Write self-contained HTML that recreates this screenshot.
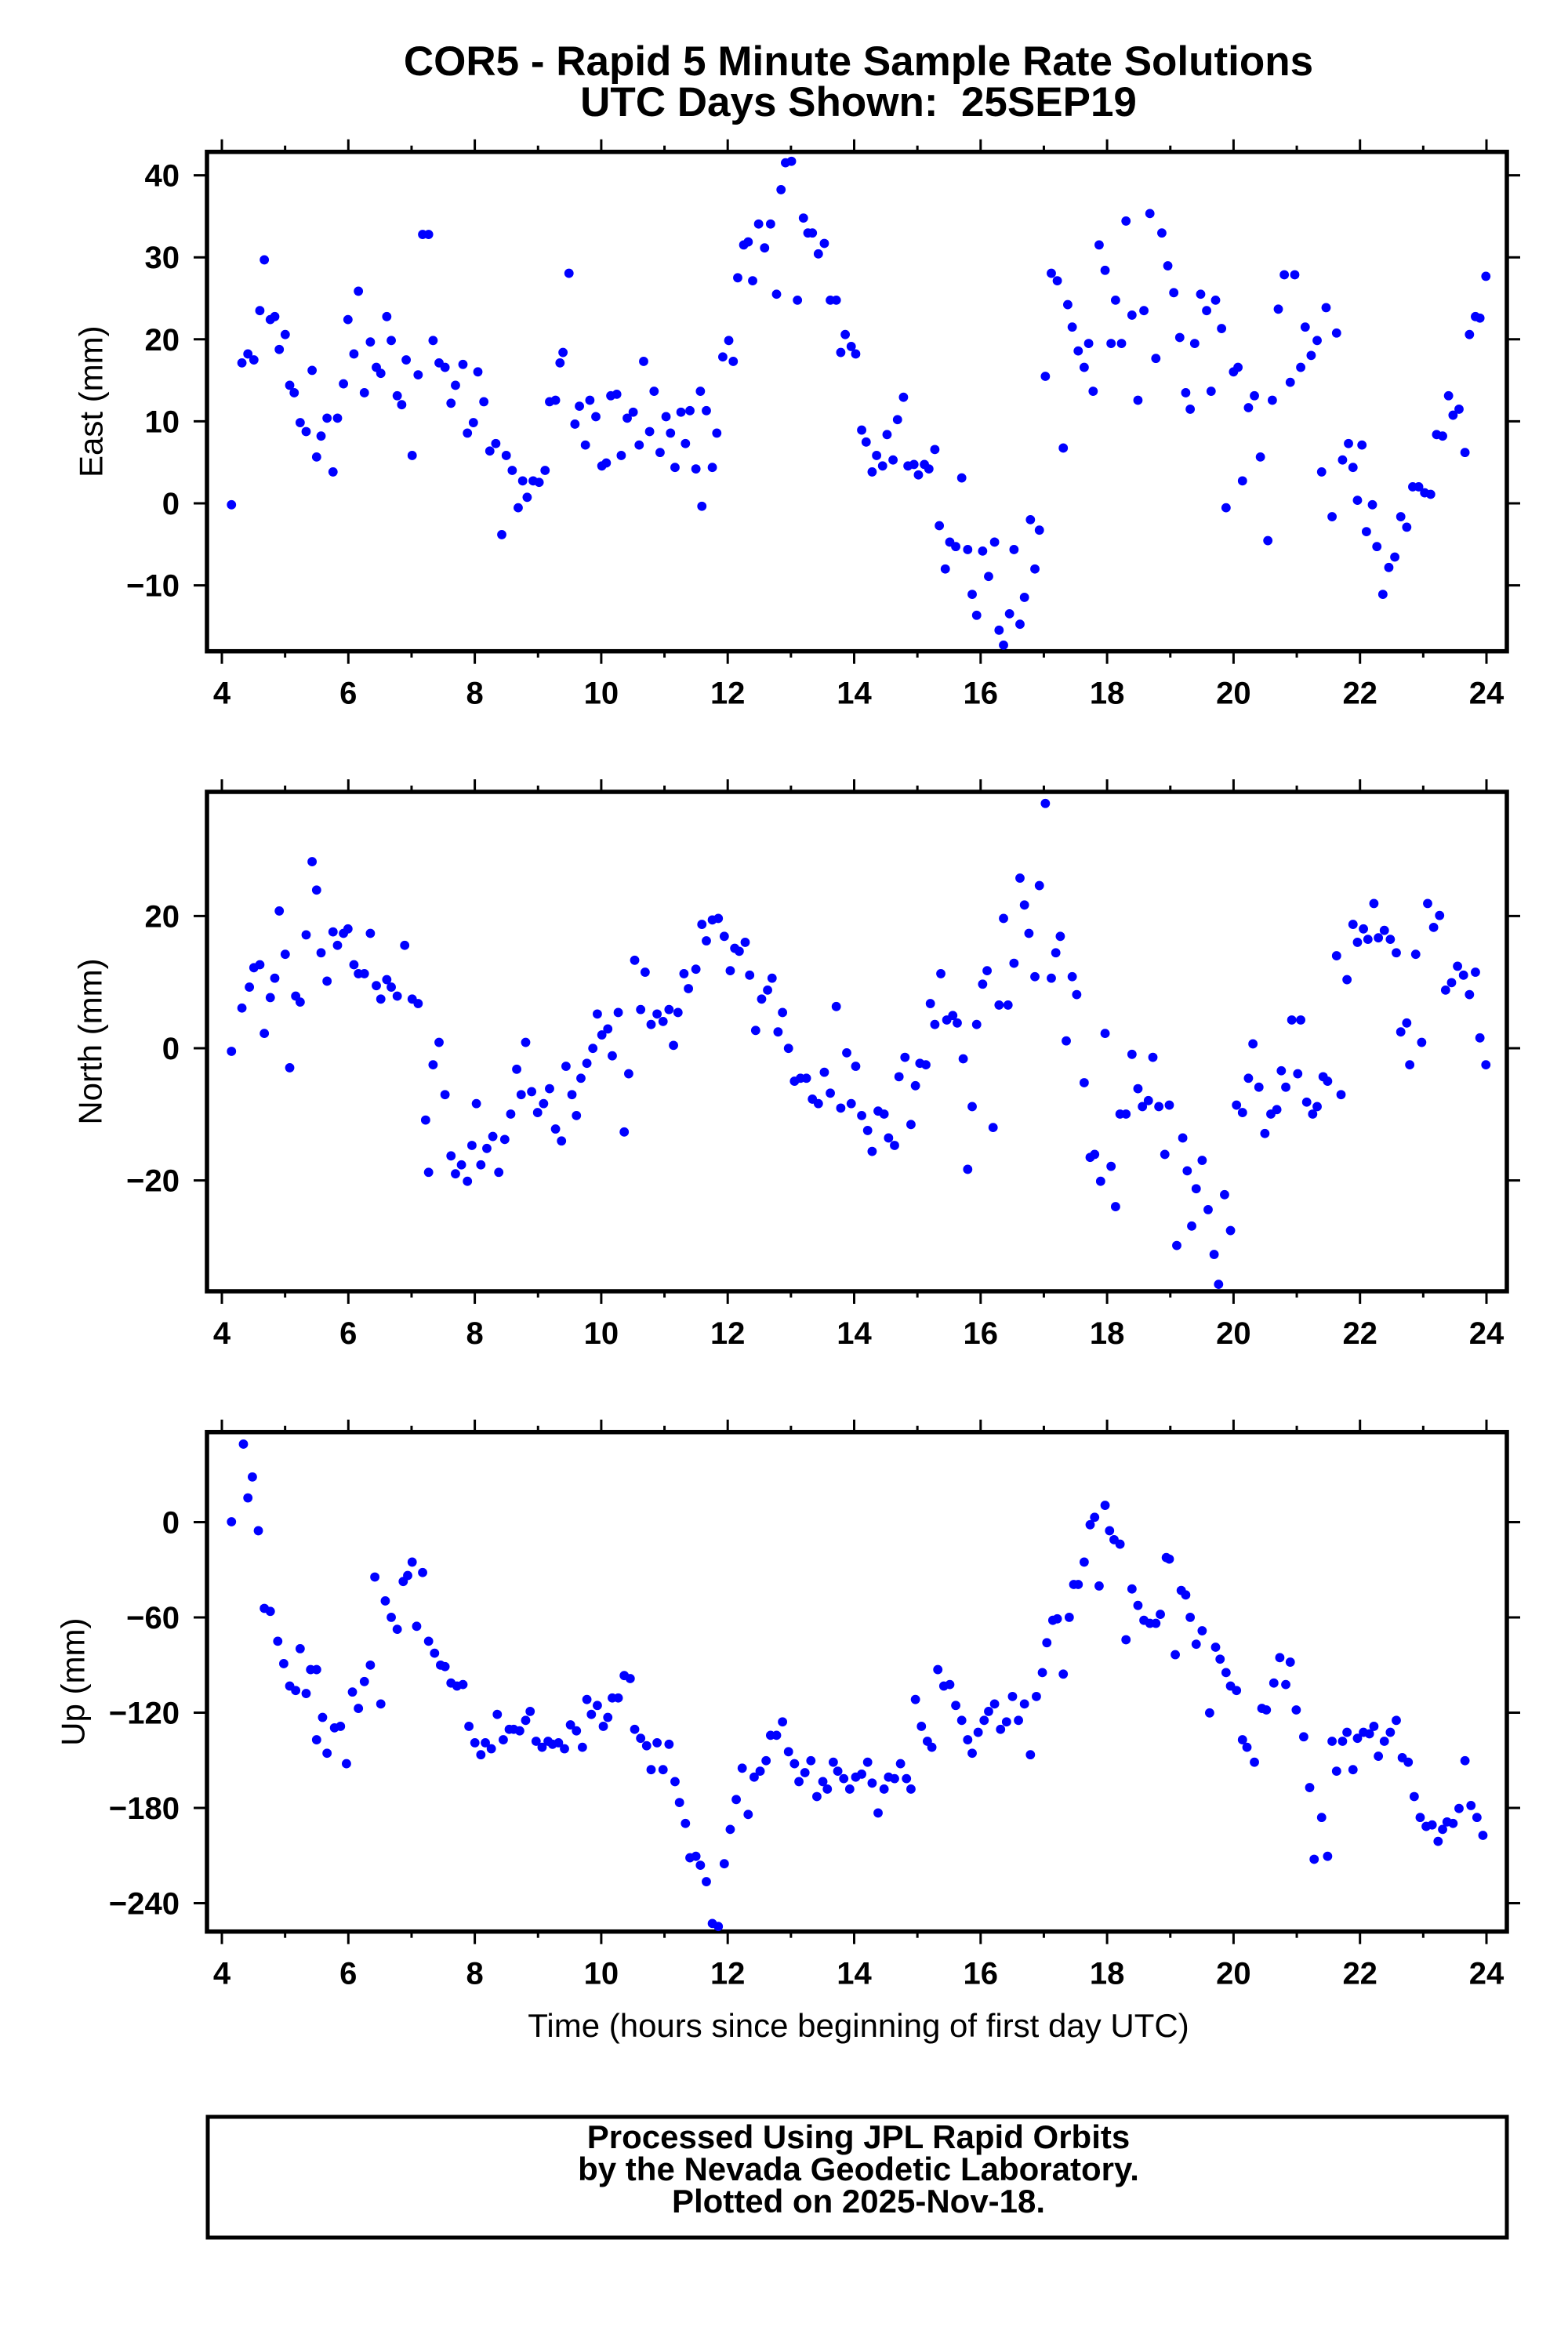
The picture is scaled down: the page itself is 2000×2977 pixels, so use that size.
<!DOCTYPE html>
<html><head><meta charset="utf-8"><style>
html,body{margin:0;padding:0;background:#fff;}
svg{display:block;}
text{font-family:"Liberation Sans",Arial,sans-serif;fill:#000;}
.b{font-weight:bold;}
</style></head><body>
<svg id="s" xmlns="http://www.w3.org/2000/svg" width="2000" height="2977" viewBox="0 0 2000 2977">
<rect width="2000" height="2977" fill="#fff"/>
<text class="b" x="1095" y="96" font-size="53" text-anchor="middle">COR5 - Rapid 5 Minute Sample Rate Solutions</text>
<text class="b" x="1095" y="148" font-size="53" text-anchor="middle" xml:space="preserve">UTC Days Shown:  25SEP19</text>
<text x="1095" y="2598" font-size="42" text-anchor="middle">Time (hours since beginning of first day UTC)</text>
<rect x="265" y="2700" width="1657" height="154" fill="none" stroke="#000" stroke-width="5"/>
<text class="b" x="1095" y="2740" font-size="42" text-anchor="middle">Processed Using JPL Rapid Orbits</text>
<text class="b" x="1095" y="2781" font-size="42" text-anchor="middle">by the Nevada Geodetic Laboratory.</text>
<text class="b" x="1095" y="2822" font-size="42" text-anchor="middle">Plotted on 2025-Nov-18.</text>
<g id="axes"></g>
<g id="dots" fill="#0000ff" transform="scale(1.9048)"></g>
</svg>
<script>
var NS="http://www.w3.org/2000/svg";
function el(p,t,a,txt){var e=document.createElementNS(NS,t);for(var k in a)e.setAttribute(k,a[k]);if(txt!==undefined)e.textContent=txt;p.appendChild(e);return e;}
var ax=document.getElementById('axes');
var L=264,R=1922,H=637;
function X(h){return 283+(h-4)*80.65;}
var panels=[
 {top:193.7,z:642,s:10.46,labs:[40,30,20,10,0,-10],name:"East (mm)",nx:116},
 {top:1010,z:1337,s:8.43,labs:[20,0,-20],name:"North (mm)",nx:115},
 {top:1826.7,z:1941.5,s:2.025,labs:[0,-60,-120,-180,-240],name:"Up (mm)",nx:93}
];
panels.forEach(function(p){
 var T=p.top,B=T+H;
 for(var h=4;h<=24;h++){
  var x=X(h),len=(h%2==0)?16:8;
  el(ax,'line',{x1:x,y1:B,x2:x,y2:B+len,stroke:'#000','stroke-width':3});
  el(ax,'line',{x1:x,y1:T,x2:x,y2:T-len,stroke:'#000','stroke-width':3});
  if(h%2==0) el(ax,'text',{x:x,y:B+67,'font-size':40,'class':'b','text-anchor':'middle'},String(h));
 }
 p.labs.forEach(function(v){
  var y=p.z-p.s*v;
  el(ax,'line',{x1:L,y1:y,x2:L-17,y2:y,stroke:'#000','stroke-width':3});
  el(ax,'line',{x1:R,y1:y,x2:R+17,y2:y,stroke:'#000','stroke-width':3});
  el(ax,'text',{x:229,y:y+14,'font-size':40,'class':'b','text-anchor':'end'},(v<0?'\u2212'+(-v):String(v)));
 });
 el(ax,'rect',{x:L,y:T,width:R-L,height:H,fill:'none',stroke:'#000','stroke-width':5.5});
 var cy=T+H/2;
 el(ax,'text',{x:p.nx,y:cy,'font-size':42,'text-anchor':'middle',transform:'rotate(-90 '+p.nx+' '+cy+')','dominant-baseline':'central'},p.name);
});
var d1=[155,338,162,243,166,237,170,241,174,208,177,174,181,214,184,212,187,234,191,224,194,258,197,263,201,283,205,289,209,248,212,306,215,292,219,280,223,316,226,280,230,257,233,214,237,237,240,195,244,263,248,229,252,246,255,250,259,212,262,228,266,265,269,271,272,241,276,305,280,251,283,157,287,157,290,228,294,243,298,246,302,270,305,258,310,244,313,290,317,283,320,249,324,269,328,302,332,297,336,358,339,305,343,315,347,340,350,322,353,333,357,322,361,323,365,315,368,269,372,268,375,243,377,236,381,183,385,284,388,272,392,298,395,268,399,279,403,312,406,310,409,265,413,264,416,305,420,280,424,276,428,298,431,242,435,289,438,262,442,303,446,279,449,290,452,313,456,276,459,297,462,275,466,314,469,262,470,339,473,275,477,313,480,290,484,239,488,228,491,242,494,186,498,164,501,162,504,188,508,150,512,166,516,150,520,197,523,127,526,109,530,108,534,201,538,146,541,156,544,156,548,170,552,163,556,201,560,201,563,236,566,224,570,232,573,237,577,288,580,296,584,316,587,305,591,312,594,291,598,308,601,281,605,266,608,312,612,311,615,318,619,311,622,314,626,301,629,352,633,381,636,363,640,366,644,320,648,368,651,398,654,412,658,369,662,386,666,363,669,422,672,432,676,411,679,368,683,418,686,400,690,348,693,381,696,355,700,252,704,183,708,188,712,300,715,204,718,219,722,235,726,246,729,230,732,262,736,164,740,181,744,230,747,201,751,230,754,148,758,211,762,268,766,208,770,143,774,240,778,156,782,178,786,196,790,226,794,263,797,274,800,230,804,197,808,208,811,262,814,201,818,220,821,340,826,249,829,246,832,322,836,273,840,265,844,306,849,362,852,268,856,207,860,184,864,256,867,184,871,246,874,219,878,238,882,228,885,316,888,206,892,346,895,223,899,308,903,297,906,313,909,335,912,298,915,356,919,338,922,366,926,398,930,380,934,373,938,346,942,353,946,326,950,326,954,330,958,331,962,291,966,292,970,265,973,278,977,274,981,303,984,224,988,212,991,213,995,185];
var d2=[155,704,162,675,167,661,170,648,174,646,177,692,181,668,184,655,187,610,191,639,194,715,198,667,201,671,205,626,209,577,212,596,215,638,219,657,223,624,226,633,230,625,233,622,237,646,240,652,244,652,248,625,252,660,255,669,259,656,262,661,266,667,271,633,276,669,280,672,285,750,287,785,290,713,294,698,298,733,302,774,305,786,309,780,313,791,316,767,319,739,322,780,326,769,330,761,334,785,338,763,342,746,346,716,349,733,352,698,356,731,360,745,364,739,368,729,372,756,376,764,379,714,383,733,386,747,389,722,393,712,397,702,400,679,403,693,407,689,410,707,414,678,418,758,421,719,425,643,429,676,432,651,436,686,440,679,444,684,448,676,451,700,454,678,458,652,461,662,466,649,470,619,473,630,477,616,481,615,485,627,489,650,492,635,495,637,499,631,502,653,506,690,510,669,514,663,517,655,521,691,524,678,528,702,532,724,536,722,540,722,544,736,548,739,552,718,556,732,560,674,563,742,567,705,570,739,573,714,577,747,581,757,584,771,588,744,592,746,595,762,599,767,602,721,606,708,610,753,613,727,616,712,620,713,623,672,626,686,630,652,634,683,638,680,641,685,645,709,648,783,651,741,654,686,658,659,661,650,665,755,669,673,672,615,675,673,679,645,683,588,686,606,689,625,693,654,696,593,700,538,704,655,707,638,710,627,714,697,718,654,721,666,726,725,730,775,733,773,737,791,740,692,744,781,747,808,750,746,754,746,758,706,762,729,765,741,769,737,772,708,776,741,780,773,783,740,788,834,792,762,795,784,798,821,801,796,805,777,809,810,813,840,816,860,820,800,824,824,828,740,832,745,836,722,839,699,843,728,847,759,851,746,855,743,858,717,861,728,865,683,869,719,871,683,875,738,879,746,882,741,886,721,889,724,895,640,898,733,902,656,906,619,909,631,913,622,916,629,920,605,923,628,927,623,931,629,935,638,938,691,942,685,944,713,948,639,952,698,956,605,960,621,964,613,968,663,972,658,976,647,980,653,984,666,988,651,991,695,995,713];
var d3=[155,1019,163,967,166,1003,169,989,173,1025,177,1077,181,1079,186,1099,190,1114,194,1129,198,1132,201,1104,205,1134,208,1118,212,1118,212,1165,216,1150,219,1174,224,1157,228,1156,232,1181,236,1133,240,1144,244,1126,248,1115,251,1056,255,1141,258,1072,262,1083,266,1091,270,1059,273,1055,276,1046,279,1089,283,1053,287,1099,291,1107,295,1115,298,1116,302,1127,306,1129,310,1128,314,1156,318,1167,322,1175,325,1167,329,1171,333,1148,337,1165,341,1158,344,1158,348,1159,352,1152,355,1146,359,1166,363,1170,367,1166,370,1168,374,1167,378,1171,382,1155,386,1159,390,1170,393,1138,396,1148,400,1142,404,1156,407,1150,410,1137,414,1137,418,1122,422,1124,425,1158,429,1164,433,1169,436,1185,440,1167,444,1185,448,1168,452,1193,455,1207,459,1221,462,1244,466,1243,469,1249,473,1260,477,1288,481,1290,485,1248,489,1225,493,1205,497,1184,501,1215,505,1190,509,1186,513,1179,516,1162,520,1162,524,1153,528,1173,532,1181,535,1193,539,1187,543,1179,547,1203,551,1193,554,1198,558,1180,561,1186,565,1191,569,1198,573,1190,577,1188,581,1180,584,1194,588,1214,592,1198,595,1190,599,1191,603,1181,607,1191,610,1198,613,1138,617,1156,621,1166,624,1170,628,1118,632,1129,636,1128,640,1142,644,1152,648,1165,651,1174,655,1160,659,1152,662,1146,666,1141,670,1158,674,1153,678,1136,682,1152,686,1141,690,1175,694,1136,698,1120,701,1100,705,1085,708,1084,712,1121,716,1083,719,1061,722,1061,726,1046,730,1021,733,1016,736,1062,740,1008,743,1025,746,1031,750,1034,754,1098,758,1064,762,1075,766,1085,770,1087,774,1087,777,1081,781,1043,783,1044,787,1108,791,1065,794,1068,797,1083,801,1101,805,1092,810,1147,814,1103,817,1111,821,1120,824,1129,828,1132,832,1165,835,1170,840,1180,845,1144,848,1145,853,1127,857,1110,861,1128,864,1113,868,1145,873,1163,877,1197,880,1245,885,1217,889,1243,892,1166,895,1186,899,1166,902,1160,906,1185,909,1164,913,1160,917,1161,920,1156,923,1176,927,1166,931,1160,935,1152,939,1177,943,1180,947,1203,951,1217,955,1223,959,1222,963,1233,966,1225,969,1220,973,1221,977,1211,981,1179,985,1209,989,1217,993,1229];
var g=document.getElementById('dots');
[d1,d2,d3].forEach(function(d){for(var i=0;i<d.length;i+=2)el(g,'circle',{cx:d[i],cy:d[i+1],r:3.1});});
</script>
</body></html>
